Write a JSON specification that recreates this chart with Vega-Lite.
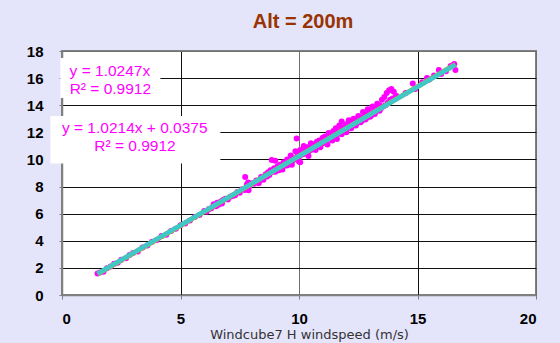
{
  "$schema": "https://vega.github.io/schema/vega-lite/v6.json",
  "width": 474,
  "height": 244,
  "autosize": {"type": "none"},
  "padding": {"left": 62, "top": 51, "right": 24, "bottom": 48},
  "background": "#E4E4FB",
  "title": {"text": "Alt = 200m", "fontSize": 20, "font": "Liberation Sans", "fontWeight": "bold", "color": "#993300", "anchor": "middle", "offset": 12, "dx": 4},
  "config": {"view": {"fill": "white", "stroke": "#808080", "strokeWidth": 2}, "font": "Liberation Sans"},
  "datasets": {
    "pts": [
      {"x":1.5,"y":1.58},{"x":1.6,"y":1.66},{"x":1.75,"y":1.72},{"x":1.9,"y":1.98},{"x":2.05,"y":2.1},{"x":2.2,"y":2.3},{"x":2.35,"y":2.38},{"x":2.5,"y":2.6},{"x":2.7,"y":2.72},{"x":2.85,"y":2.95},{"x":3.0,"y":3.1},{"x":3.2,"y":3.2},{"x":3.4,"y":3.5},{"x":3.6,"y":3.65},{"x":3.8,"y":3.92},{"x":4.0,"y":4.05},{"x":4.2,"y":4.35},{"x":4.4,"y":4.45},{"x":4.6,"y":4.72},{"x":4.8,"y":4.88},{"x":5.0,"y":5.15},{"x":5.2,"y":5.28},{"x":5.4,"y":5.5},{"x":5.6,"y":5.75},{"x":5.8,"y":5.9},{"x":6.0,"y":6.2},{"x":6.1,"y":6.15},
      {"x":6.2,"y":6.35},{"x":6.3,"y":6.4},{"x":6.4,"y":6.7},{"x":6.5,"y":6.55},{"x":6.55,"y":6.8},{"x":6.6,"y":6.65},{"x":6.7,"y":6.9},{"x":6.75,"y":6.75},{"x":6.8,"y":7.0},{"x":6.9,"y":7.1},{"x":7.0,"y":7.05},{"x":7.1,"y":7.25},{"x":7.2,"y":7.3},{"x":7.3,"y":7.35},{"x":7.4,"y":7.6},{"x":7.5,"y":7.55},{"x":7.6,"y":7.8},{"x":7.7,"y":7.75},{"x":7.73,"y":8.71},{"x":7.8,"y":8.15},{"x":7.85,"y":8.3},{"x":7.87,"y":7.73},{"x":7.9,"y":8.0},{"x":8.0,"y":8.25},{"x":8.1,"y":8.2},{"x":8.2,"y":8.45},{"x":8.3,"y":8.4},{"x":8.4,"y":8.7},{"x":8.5,"y":8.65},{"x":8.3,"y":8.25},{"x":8.5,"y":8.5},
      {"x":8.6,"y":8.9},{"x":8.65,"y":8.75},{"x":8.7,"y":9.05},{"x":8.75,"y":8.85},{"x":8.8,"y":9.2},{"x":8.85,"y":9.95},{"x":8.9,"y":9.1},{"x":8.95,"y":9.35},{"x":9.0,"y":9.2},{"x":9.0,"y":9.9},{"x":9.0,"y":9.1},{"x":9.05,"y":9.3},{"x":9.1,"y":9.5},{"x":9.15,"y":9.2},{"x":9.2,"y":9.6},{"x":9.25,"y":9.4},{"x":9.3,"y":9.5},{"x":9.35,"y":9.8},{"x":9.4,"y":9.55},{"x":9.45,"y":9.7},{"x":9.5,"y":10.0},{"x":9.5,"y":9.55},{"x":9.55,"y":9.65},{"x":9.6,"y":9.9},{"x":9.65,"y":10.3},{"x":9.7,"y":9.85},{"x":9.75,"y":10.1},{"x":9.8,"y":10.0},{"x":9.85,"y":10.6},{"x":9.9,"y":10.1},{"x":9.9,"y":11.55},{"x":9.95,"y":10.4},{"x":10.0,"y":10.2},{"x":10.0,"y":9.85},{"x":10.05,"y":10.7},{"x":10.05,"y":9.8},{"x":10.1,"y":10.35},{"x":10.15,"y":10.5},{"x":10.2,"y":10.4},{"x":10.2,"y":11.0},{"x":10.25,"y":10.6},{"x":10.3,"y":10.45},{"x":10.35,"y":10.9},{"x":10.4,"y":10.6},{"x":10.4,"y":10.25},{"x":10.45,"y":10.75},{"x":10.5,"y":10.7},{"x":10.5,"y":11.2},{"x":10.55,"y":10.9},{"x":10.6,"y":10.8},{"x":10.65,"y":11.1},{"x":10.7,"y":10.95},{"x":10.75,"y":11.3},{"x":10.8,"y":11.0},{"x":10.85,"y":11.4},{"x":10.9,"y":11.1},{"x":10.95,"y":11.25},{"x":11.0,"y":11.2},{"x":11.0,"y":11.6},
      {"x":9.3,"y":9.25},{"x":9.7,"y":9.6},{"x":10.7,"y":10.7},{"x":10.9,"y":10.9},{"x":11.4,"y":11.4},{"x":11.8,"y":11.85},{"x":12.2,"y":12.3},{"x":12.6,"y":12.75},{"x":13.0,"y":13.15},{"x":13.4,"y":13.6},
      {"x":11.05,"y":11.35},{"x":11.1,"y":11.7},{"x":11.15,"y":11.4},{"x":11.2,"y":11.5},{"x":11.2,"y":11.1},{"x":11.25,"y":11.95},{"x":11.3,"y":11.55},{"x":11.35,"y":11.8},{"x":11.4,"y":11.6},{"x":11.45,"y":12.1},{"x":11.5,"y":11.8},{"x":11.55,"y":12.3},{"x":11.6,"y":11.85},{"x":11.6,"y":11.5},{"x":11.65,"y":12.0},{"x":11.7,"y":12.5},{"x":11.75,"y":12.1},{"x":11.8,"y":12.8},{"x":11.85,"y":12.2},{"x":11.9,"y":12.4},{"x":11.95,"y":12.15},{"x":12.0,"y":12.6},{"x":12.0,"y":12.0},{"x":12.05,"y":12.35},{"x":12.1,"y":12.9},{"x":12.15,"y":12.45},{"x":12.2,"y":12.7},{"x":12.25,"y":12.5},{"x":12.3,"y":13.0},{"x":12.35,"y":12.6},{"x":12.4,"y":12.85},{"x":12.4,"y":12.5},{"x":12.45,"y":12.7},{"x":12.5,"y":13.2},{"x":12.55,"y":12.9},{"x":12.6,"y":13.1},{"x":12.65,"y":12.85},{"x":12.7,"y":13.5},{"x":12.75,"y":13.1},{"x":12.8,"y":13.3},{"x":12.8,"y":12.95},{"x":12.85,"y":13.05},{"x":12.9,"y":13.7},{"x":12.95,"y":13.3},{"x":13.0,"y":13.5},{"x":13.05,"y":13.25},{"x":13.1,"y":13.9},{"x":13.15,"y":13.5},{"x":13.2,"y":13.8},{"x":13.2,"y":13.35},{"x":13.25,"y":13.55},{"x":13.3,"y":14.1},{"x":13.35,"y":13.7},{"x":13.4,"y":14.0},{"x":13.45,"y":13.75},{"x":13.5,"y":14.4},{"x":13.55,"y":13.9},{"x":13.6,"y":14.6},{"x":13.65,"y":14.0},{"x":13.7,"y":14.9},{"x":13.75,"y":14.2},{"x":13.8,"y":15.1},{"x":13.85,"y":14.4},{"x":13.9,"y":15.2},{"x":13.95,"y":14.5},{"x":14.0,"y":15.0},{"x":14.05,"y":14.5},{"x":14.1,"y":14.7},
      {"x":14.5,"y":14.9},{"x":14.8,"y":15.6},{"x":14.9,"y":15.2},{"x":15.2,"y":15.7},{"x":15.4,"y":16.0},{"x":15.5,"y":15.9},{"x":15.7,"y":16.2},{"x":15.9,"y":16.6},{"x":16.0,"y":16.3},{"x":16.2,"y":16.5},{"x":16.4,"y":16.9},{"x":16.5,"y":16.95},{"x":16.6,"y":16.6},{"x":16.55,"y":17.05}
    ],
    "fitA": [{"x":1.5,"y":1.537},{"x":16.6,"y":17.01}],
    "fitB": [{"x":1.5,"y":1.57},{"x":16.6,"y":16.99}],
    "boxes": [{"x":-0.07,"x2":4.15,"y":17.48,"y2":14.53},{"x":-0.49,"x2":6.68,"y":13.2,"y2":9.7}],
    "labels": [
      {"x":2.02,"y":16.5,"label":"y = 1.0247x"},
      {"x":2.04,"y":15.22,"label":"R² = 0.9912"},
      {"x":3.07,"y":12.31,"label":"y = 1.0214x + 0.0375"},
      {"x":3.08,"y":10.98,"label":"R² = 0.9912"}
    ]
  },
  "encoding": {
    "x": {"field": "x", "type": "quantitative",
      "scale": {"domain": [0, 20], "nice": false, "zero": false},
      "axis": {"values": [0, 5, 10, 15, 20], "title": "Windcube7 H windspeed (m/s)",
        "labelFontSize": 15, "labelFontWeight": "bold", "labelColor": "black", "labelFont": "Liberation Sans",
        "tickSize": 4, "labelPadding": 12, "domainColor": "#808080", "domainWidth": 1.5, "tickColor": "#808080",
        "gridColor": {"condition": {"test": "datum.value == 0 || datum.value == 20 || datum.value == 10", "value": "#707070"}, "value": "#111111"},
        "gridOpacity": 1,
        "titleFont": "DejaVu Sans", "titleFontSize": 13, "titleFontWeight": "normal", "titleColor": "#333333",
        "titlePadding": 2, "titleX": 247, "titleAlign": "center"}},
    "y": {"field": "y", "type": "quantitative",
      "scale": {"domain": [0, 18], "nice": false, "zero": false},
      "axis": {"values": [0, 2, 4, 6, 8, 10, 12, 14, 16, 18], "title": null,
        "labelFontSize": 15, "labelFontWeight": "bold", "labelColor": "black", "labelFont": "Liberation Sans",
        "tickSize": 3, "labelPadding": 16, "domainColor": "#808080", "domainWidth": 1.5, "tickColor": "#808080",
        "gridColor": {"condition": {"test": "datum.value == 18", "value": "#707070"}, "value": "#111111"},
        "gridOpacity": 1}}
  },
  "layer": [
    {"data": {"name": "pts"}, "mark": {"type": "circle", "size": 36, "color": "#FF00FF", "opacity": 1}},
    {"data": {"name": "fitA"}, "mark": {"type": "line", "color": "#A8A838", "strokeWidth": 5}},
    {"data": {"name": "fitB"}, "mark": {"type": "line", "color": "#40C8C8", "strokeWidth": 4.5}},
    {"data": {"name": "boxes"}, "mark": {"type": "rect", "color": "white", "opacity": 1},
      "encoding": {"x2": {"field": "x2"}, "y2": {"field": "y2"}}},
    {"data": {"name": "labels"}, "mark": {"type": "text", "color": "#FF00FF", "fontSize": 15.5, "font": "Liberation Sans", "align": "center", "baseline": "middle"},
      "encoding": {"text": {"field": "label"}}}
  ]
}
